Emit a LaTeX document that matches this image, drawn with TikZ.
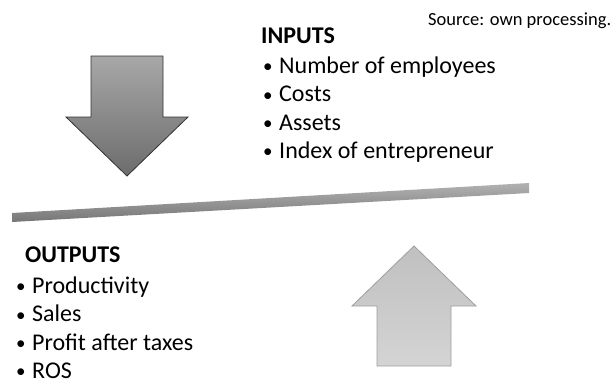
\documentclass[tikz,border=0pt]{standalone}
\usepackage{fontspec}
\setmainfont{Carlito}
\usepackage{xcolor}
\usetikzlibrary{positioning}

\definecolor{downtop}{RGB}{168,168,168}
\definecolor{downbot}{RGB}{108,108,108}
\definecolor{uptop}{RGB}{192,192,192}
\definecolor{upbot}{RGB}{212,212,212}
\definecolor{upline}{RGB}{158,158,158}
\definecolor{bartop}{RGB}{178,178,178}
\definecolor{barbot}{RGB}{118,118,118}

% small bullet with a hanging gap
\newcommand{\bul}{\makebox[16pt][l]{\raisebox{0.5pt}{\fontsize{19}{19}\selectfont•}}}

\begin{document}
\begin{tikzpicture}[
  x=1pt, y=-1pt,
  heading/.style ={font=\fontsize{24}{28}\selectfont\bfseries, inner sep=0pt, anchor=base west},
  item/.style    ={font=\fontsize{24}{28}\selectfont, inner sep=0pt,
                   text height=21pt, text depth=7pt, anchor=north west},
  source/.style  ={font=\fontsize{18.5}{22}\selectfont, inner sep=0pt, anchor=base west},
  downarrow/.style={draw=black!80, line width=0.8pt, top color=downtop, bottom color=downbot},
  uparrow/.style ={draw=upline, line width=0.8pt, top color=uptop, bottom color=upbot},
  bar/.style     ={draw=none, top color=bartop, bottom color=barbot}
]
\useasboundingbox (0,0) rectangle (610,383);

%--- Source note ------------------------------------------------------------
\node[source] (src) at (428,25) {Source: own processing.};

%--- Inputs -----------------------------------------------------------------
\node[heading] (inputs) at (261,43) {INPUTS};
\node[item] (employees) at (263,52) {\bul Number of employees};
\node[item] (costs)  [below=0pt of employees.south west, anchor=north west] {\bul Costs};
\node[item] (assets) [below=0pt of costs.south west, anchor=north west] {\bul Assets};
\node[item] (index)  [below=0pt of assets.south west, anchor=north west] {\bul Index of entrepreneur};

%--- Outputs ----------------------------------------------------------------
\node[heading] (outputs) at (25,262) {OUTPUTS};
\node[item] (productivity) at (16,272) {\bul Productivity};
\node[item] (sales)  [below=0pt of productivity.south west, anchor=north west] {\bul Sales};
\node[item] (profit) [below=0pt of sales.south west, anchor=north west] {\bul Profit after taxes};
\node[item] (ros)    [below=0pt of profit.south west, anchor=north west] {\bul ROS};

%--- Arrows and bar ---------------------------------------------------------
\path[downarrow] (91,56) -- (163,56) -- (163,117) -- (188,117) -- (127,176)
      -- (66,117) -- (91,117) -- cycle;
\path[uparrow] (377,366) -- (451,366) -- (451,306) -- (476,306) -- (414,246)
      -- (352,306) -- (377,306) -- cycle;
\path[bar] (12,213) -- (529,183) -- (529,193) -- (12,222) -- cycle;
\end{tikzpicture}
\end{document}
